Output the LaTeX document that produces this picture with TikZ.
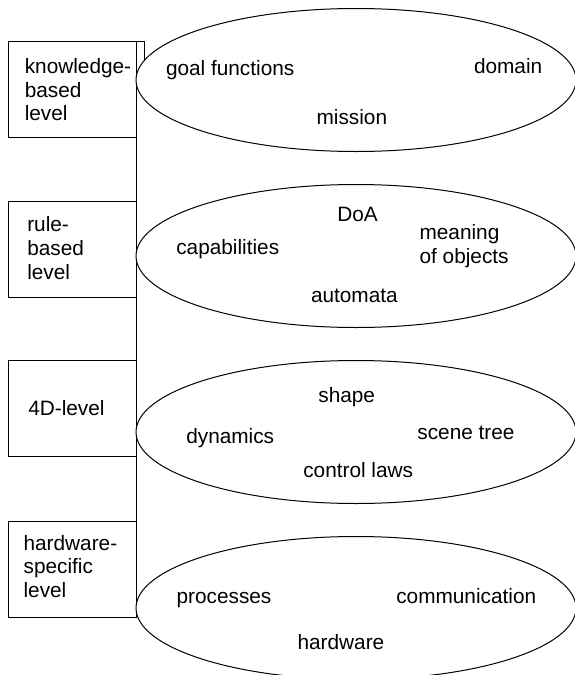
\documentclass[tikz,border=0pt]{standalone}
\usepackage{fontspec}
\setmainfont{Liberation Sans}
\usetikzlibrary{shapes.geometric,backgrounds}
\begin{document}
\begin{tikzpicture}[x=1pt,y=-1pt,
  line/.style={line width=1pt, draw=black},
  box/.style={line, rectangle, inner sep=0pt, outer sep=0pt, anchor=north west, minimum width=128pt, minimum height=96pt},
  ell/.style={line, fill=white, ellipse, inner sep=0pt, outer sep=0pt, minimum width=440pt, minimum height=143pt},
  txt/.style={inner sep=0pt, outer sep=0pt, anchor=base west, align=left, font=\fontsize{20.8}{23.8}\selectfont}]
\useasboundingbox (0,0) rectangle (575,675);
% level boxes
\node[box] (b1) at (8,41) {};
\node[box] (b2) at (8,201) {};
\node[box] (b3) at (8,360) {};
\node[box] (b4) at (8,521) {};
% ellipses
\node[ell] (e1) at (356,80) {};
\node[ell] (e2) at (356,256) {};
\node[ell] (e3) at (356,432) {};
\node[ell] (e4) at (356,608) {};
\begin{pgfonlayer}{background}
  \draw[line] (b1.north east) -- ++(8,0) -- ++(0,30);
  \draw[line] (e1.west) -- (b4.south east);
\end{pgfonlayer}
% box labels (base anchor = baseline of last line)
\node[txt] (l1) at (24.8,120.9) {knowledge-\\based\\level};
\node[txt] (l2) at (27.3,279.3) {rule-\\based\\level};
\node[txt] (l3) at (28.3,415) {4D-level};
\node[txt] (l4) at (23.6,597.6) {hardware-\\specific\\level};
% ellipse 1
\node[txt] (goal) at (166,75) {goal functions};
\node[txt] (domain) at (474,73) {domain};
\node[txt] (mission) at (316.6,124) {mission};
% ellipse 2
\node[txt] (doa) at (337.4,221) {DoA};
\node[txt] (meaning) at (419.6,263.5) {meaning\\of objects};
\node[txt] (capab) at (176.3,254) {capabilities};
\node[txt] (automata) at (311,302) {automata};
% ellipse 3
\node[txt] (shape) at (318.4,402) {shape};
\node[txt] (scene) at (417.4,439) {scene tree};
\node[txt] (control) at (303.3,477) {control laws};
\node[txt] (dyn) at (186.3,443) {dynamics};
% ellipse 4
\node[txt] (proc) at (176.6,603) {processes};
\node[txt] (comm) at (396.3,603) {communication};
\node[txt] (hw) at (297.6,649) {hardware};
\end{tikzpicture}
\end{document}
